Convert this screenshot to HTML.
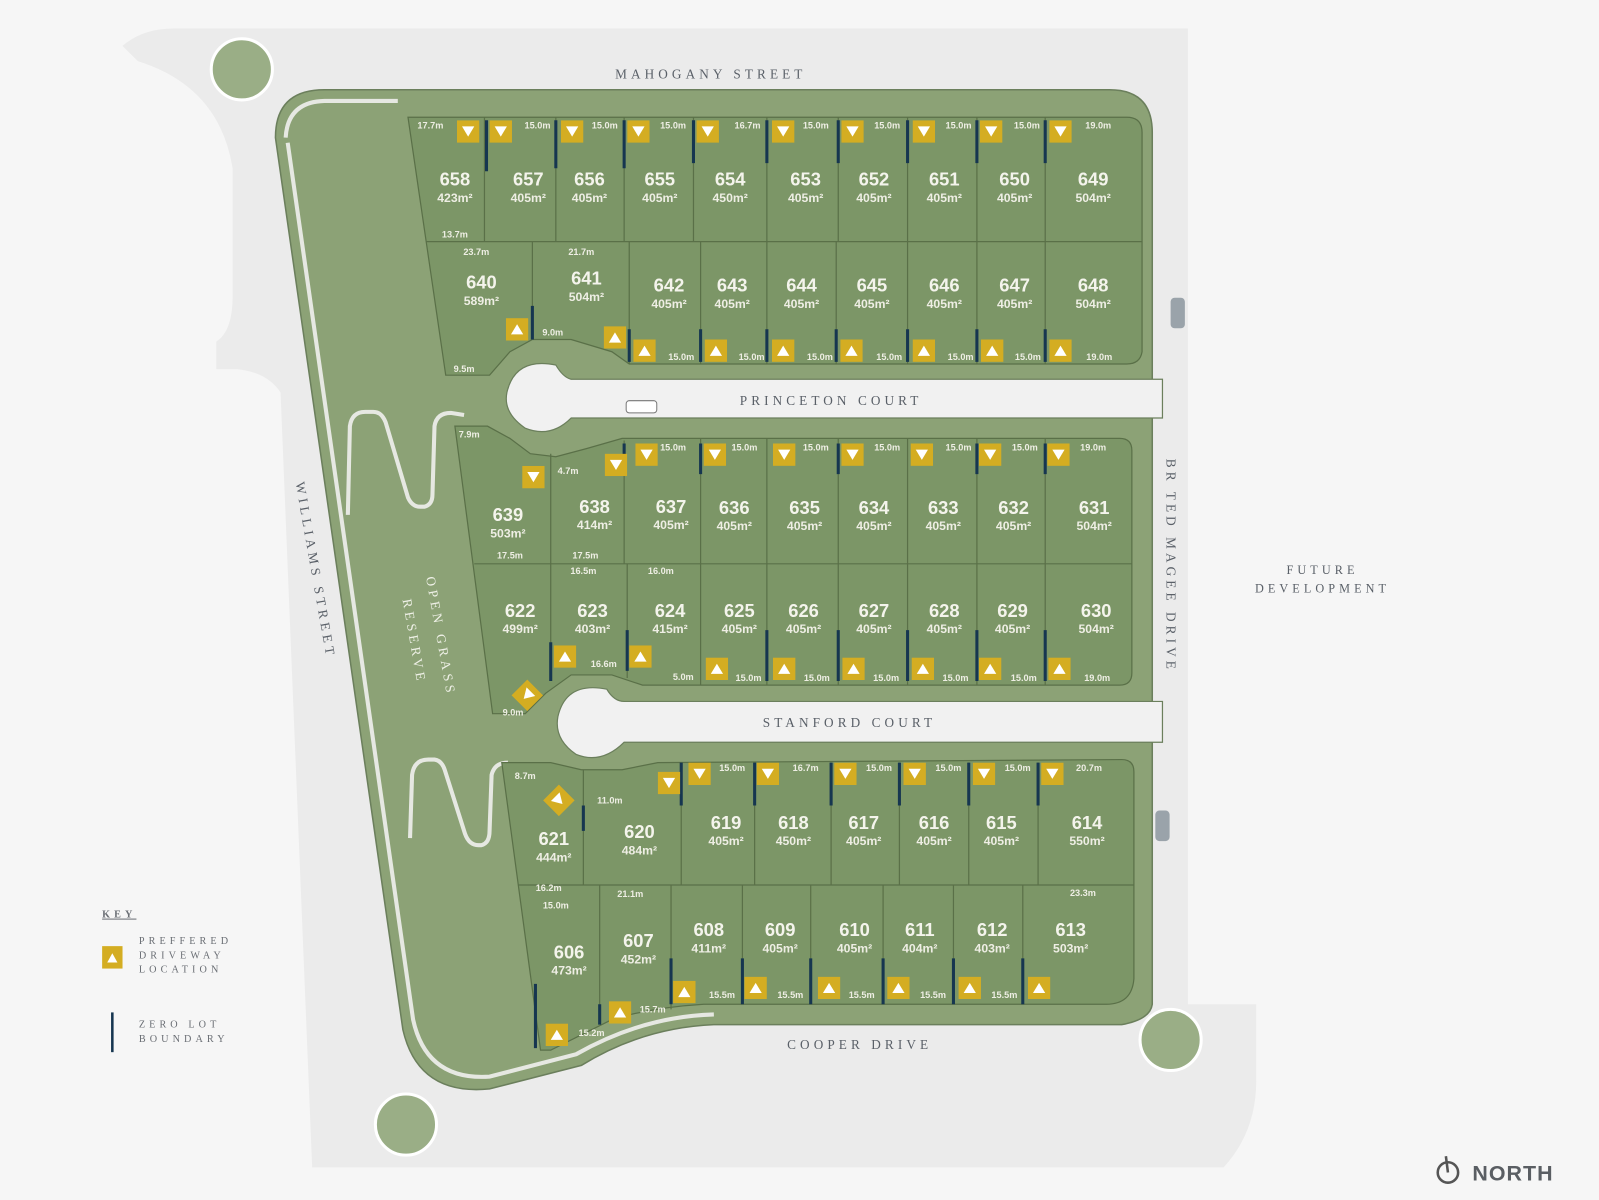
<!DOCTYPE html>
<html><head><meta charset="utf-8"><style>
html,body{margin:0;padding:0;background:#f6f6f6;}
svg{display:block}
.n{font:bold 18px "Liberation Sans",sans-serif;fill:#f4f4ec;text-anchor:middle}
.a{font:bold 12px "Liberation Sans",sans-serif;fill:#eeeee4;text-anchor:middle}
.d{font:bold 9px "Liberation Sans",sans-serif;fill:#eeeee4;text-anchor:middle}
.s{font:13px "Liberation Serif",serif;fill:#5a6068;letter-spacing:4px;text-anchor:middle}
.k{font:10px "Liberation Serif",serif;fill:#6a6e74;letter-spacing:4px}
</style></head><body>
<svg width="1599" height="1200" viewBox="0 0 1568 1177" xmlns="http://www.w3.org/2000/svg">
<defs>
<symbol id="dn" viewBox="0 0 22 22"><rect width="22" height="22" fill="#d4ad22"/><path d="M5,6 L17,6 L11,16Z" fill="#fff"/></symbol>
<symbol id="up" viewBox="0 0 22 22"><rect width="22" height="22" fill="#d4ad22"/><path d="M5,16 L17,16 L11,6Z" fill="#fff"/></symbol>
</defs>
<rect width="1568" height="1177" fill="#f6f6f6"/>
<!-- roads -->
<path d="M120,45 Q140,28 170,28 L1165,28 L1165,985 L1232,985 L1232,1060 Q1232,1110 1200,1145 L306,1145 L275,385 Q262,365 232,362 L212,362 L212,335 Q228,325 228,290 L228,165 Q215,85 135,60 Z" fill="#ebebeb"/>
<!-- trees -->
<g fill="#9aae86" stroke="#fff" stroke-width="3">
<circle cx="237" cy="68" r="30"/><circle cx="398" cy="1103" r="30"/><circle cx="1148" cy="1020" r="30"/></g>
<!-- big green -->
<path d="M270,135 Q270,88 318,88 L1088,88 Q1130,88 1130,130 L1130,985 Q1128,1000 1100,1005 L700,1005 Q630,1008 570,1045 L480,1068 Q410,1075 395,1010 Z" fill="#8ca276" stroke="#6b7f5c" stroke-width="1.5"/>
<path d="M280,135 Q282,100 318,99 L390,99" fill="none" stroke="#e6e8e2" stroke-width="4"/>
<path d="M282,140 L405,1000 Q418,1060 480,1056 L565,1034 Q630,997 700,995" fill="none" stroke="#e6e8e2" stroke-width="4"/>
<!-- reserve paths -->
<g fill="none" stroke="#e6e8e2" stroke-width="4" stroke-linejoin="round">
<path d="M341,505 L343,418 Q345,404 358,404 L366,404 Q374,404 378,414 L400,488 Q404,497 412,497 L416,497 Q424,495 424,485 L426,418 Q428,405 442,405 L455,407"/>
<path d="M402,822 L404,760 Q406,745 420,745 L426,745 Q433,746 436,755 L456,818 Q460,829 469,829 L472,829 Q480,827 480,815 L482,760 Q485,748 498,748"/>
</g>
<!-- courts -->
<g fill="#f1f1f1" stroke="#6b7f5c" stroke-width="1.2">
<path d="M560,372 L1140,372 L1140,410 L560,410 Q540,430 515,420 Q493,405 497,385 Q505,350 545,358 Q552,370 560,372Z"/>
<path d="M612,688 L1140,688 L1140,728 L612,728 Q590,750 565,740 Q543,725 547,703 Q555,668 595,676 Q602,688 612,688Z"/>
</g>
<!-- lot blocks -->
<g fill="#7c9667" stroke="#5a7048" stroke-width="1.2">
<path d="M400,115 L1105,115 Q1120,115 1120,130 L1120,345 Q1118,357 1105,357 L617,357 L600,345 L560,333 L522,333 L500,345 L480,368 L437,368 Z"/>
<path d="M446,418 L478,418 L500,430 L520,445 L545,448 L575,440 L610,430 L1098,430 Q1110,430 1110,442 L1110,660 Q1110,672 1098,672 L630,672 L600,662 L560,662 L535,680 L515,700 L483,700 Z"/>
<path d="M492,748 L540,748 L570,755 L610,755 L645,748 L1100,745 Q1112,745 1112,757 L1112,960 Q1110,985 1085,985 L690,985 Q640,988 600,1000 L540,1030 L530,1030 Z"/>
</g>
<g stroke="#5a7048" stroke-width="1.2">
<line x1="418" y1="237" x2="1120" y2="237"/><line x1="465" y1="553" x2="1110" y2="553"/><line x1="508" y1="868" x2="1112" y2="868"/>
<path d="M475,115V237M545,115V237M612,115V237M680,115V237M752,115V237M822,115V237M890,115V237M958,115V237M1025,115V237"/>
<path d="M522,237V333M617,237V357M687,237V357M752,237V357M820,237V357M890,237V357M958,237V357M1025,237V357"/>
<path d="M540,445V553M612,432V553M687,430V553M752,430V553M822,430V553M890,430V553M958,430V553M1025,430V553"/>
<path d="M540,553V662M615,553V665M687,553V672M752,553V672M822,553V672M890,553V672M958,553V672M1025,553V672"/>
<path d="M572,755V868M668,748V868M740,748V868M815,748V868M882,748V868M950,748V868M1018,748V868"/>
<path d="M588,868V1000M658,868V990M728,868V985M795,868V985M866,868V985M935,868V985M1003,868V985"/>
</g>
<!-- zero lot -->
<g stroke="#163650" stroke-width="3">
<path d="M477,118V168M545,118V165M612,118V165M680,118V160M752,118V160M822,118V160M890,118V160M958,118V160M1025,118V160"/>
<path d="M522,300V333M617,323V355M687,323V355M752,323V355M820,323V355M890,323V355M958,323V355M1025,323V355"/>
<path d="M612,435V465M687,435V465M822,435V465M958,435V465M1025,435V465"/>
<path d="M540,630V668M615,618V658M752,618V668M822,618V668M890,618V668M958,618V668M1025,618V668"/>
<path d="M572,790V815M668,748V790M740,748V790M815,748V790M882,748V790M950,748V790M1018,748V790"/>
<path d="M525,965V1028M588,985V1005M658,940V985M728,940V985M795,940V985M866,940V985M935,940V985M1003,940V985"/>
</g>
<!-- markers -->
<use href="#dn" x="448" y="118" width="22" height="22"/><use href="#dn" x="480" y="118" width="22" height="22"/><use href="#dn" x="550" y="118" width="22" height="22"/><use href="#dn" x="615" y="118" width="22" height="22"/><use href="#dn" x="683" y="118" width="22" height="22"/><use href="#dn" x="757" y="118" width="22" height="22"/><use href="#dn" x="825" y="118" width="22" height="22"/><use href="#dn" x="895" y="118" width="22" height="22"/><use href="#dn" x="961" y="118" width="22" height="22"/><use href="#dn" x="1029" y="118" width="22" height="22"/>
<use href="#up" x="496" y="312" width="22" height="22"/><use href="#up" x="592" y="320" width="22" height="22"/><use href="#up" x="621" y="333" width="22" height="22"/><use href="#up" x="691" y="333" width="22" height="22"/><use href="#up" x="757" y="333" width="22" height="22"/><use href="#up" x="824" y="333" width="22" height="22"/><use href="#up" x="895" y="333" width="22" height="22"/><use href="#up" x="962" y="333" width="22" height="22"/><use href="#up" x="1029" y="333" width="22" height="22"/>
<use href="#dn" x="512" y="457" width="22" height="22"/><use href="#dn" x="593" y="445" width="22" height="22"/><use href="#dn" x="623" y="435" width="22" height="22"/><use href="#dn" x="690" y="435" width="22" height="22"/><use href="#dn" x="758" y="435" width="22" height="22"/><use href="#dn" x="825" y="435" width="22" height="22"/><use href="#dn" x="893" y="435" width="22" height="22"/><use href="#dn" x="960" y="435" width="22" height="22"/><use href="#dn" x="1027" y="435" width="22" height="22"/>
<use href="#up" x="543" y="633" width="22" height="22"/><use href="#up" x="617" y="633" width="22" height="22"/><use href="#up" x="692" y="645" width="22" height="22"/><use href="#up" x="758" y="645" width="22" height="22"/><use href="#up" x="826" y="645" width="22" height="22"/><use href="#up" x="894" y="645" width="22" height="22"/><use href="#up" x="960" y="645" width="22" height="22"/><use href="#up" x="1028" y="645" width="22" height="22"/>
<use href="#dn" x="506" y="671" width="22" height="22" transform="rotate(45 517 682)"/>
<use href="#dn" x="645" y="757" width="22" height="22"/><use href="#dn" x="675" y="748" width="22" height="22"/><use href="#dn" x="742" y="748" width="22" height="22"/><use href="#dn" x="818" y="748" width="22" height="22"/><use href="#dn" x="886" y="748" width="22" height="22"/><use href="#dn" x="954" y="748" width="22" height="22"/><use href="#dn" x="1021" y="748" width="22" height="22"/>
<use href="#dn" x="537" y="774" width="22" height="22" transform="rotate(-45 548 785)"/>
<use href="#up" x="660" y="962" width="22" height="22"/><use href="#up" x="730" y="958" width="22" height="22"/><use href="#up" x="802" y="958" width="22" height="22"/><use href="#up" x="870" y="958" width="22" height="22"/><use href="#up" x="940" y="958" width="22" height="22"/><use href="#up" x="1008" y="958" width="22" height="22"/><use href="#up" x="535" y="1004" width="22" height="22"/><use href="#up" x="597" y="982" width="22" height="22"/>
<!-- lot labels -->
<text class="n" x="446" y="182">658</text><text class="a" x="446" y="198">423m²</text>
<text class="n" x="518" y="182">657</text><text class="a" x="518" y="198">405m²</text>
<text class="n" x="578" y="182">656</text><text class="a" x="578" y="198">405m²</text>
<text class="n" x="647" y="182">655</text><text class="a" x="647" y="198">405m²</text>
<text class="n" x="716" y="182">654</text><text class="a" x="716" y="198">450m²</text>
<text class="n" x="790" y="182">653</text><text class="a" x="790" y="198">405m²</text>
<text class="n" x="857" y="182">652</text><text class="a" x="857" y="198">405m²</text>
<text class="n" x="926" y="182">651</text><text class="a" x="926" y="198">405m²</text>
<text class="n" x="995" y="182">650</text><text class="a" x="995" y="198">405m²</text>
<text class="n" x="1072" y="182">649</text><text class="a" x="1072" y="198">504m²</text>
<text class="n" x="472" y="283">640</text><text class="a" x="472" y="299">589m²</text>
<text class="n" x="575" y="279">641</text><text class="a" x="575" y="295">504m²</text>
<text class="n" x="656" y="286">642</text><text class="a" x="656" y="302">405m²</text>
<text class="n" x="718" y="286">643</text><text class="a" x="718" y="302">405m²</text>
<text class="n" x="786" y="286">644</text><text class="a" x="786" y="302">405m²</text>
<text class="n" x="855" y="286">645</text><text class="a" x="855" y="302">405m²</text>
<text class="n" x="926" y="286">646</text><text class="a" x="926" y="302">405m²</text>
<text class="n" x="995" y="286">647</text><text class="a" x="995" y="302">405m²</text>
<text class="n" x="1072" y="286">648</text><text class="a" x="1072" y="302">504m²</text>
<text class="n" x="498" y="511">639</text><text class="a" x="498" y="527">503m²</text>
<text class="n" x="583" y="503">638</text><text class="a" x="583" y="519">414m²</text>
<text class="n" x="658" y="503">637</text><text class="a" x="658" y="519">405m²</text>
<text class="n" x="720" y="504">636</text><text class="a" x="720" y="520">405m²</text>
<text class="n" x="789" y="504">635</text><text class="a" x="789" y="520">405m²</text>
<text class="n" x="857" y="504">634</text><text class="a" x="857" y="520">405m²</text>
<text class="n" x="925" y="504">633</text><text class="a" x="925" y="520">405m²</text>
<text class="n" x="994" y="504">632</text><text class="a" x="994" y="520">405m²</text>
<text class="n" x="1073" y="504">631</text><text class="a" x="1073" y="520">504m²</text>
<text class="n" x="510" y="605">622</text><text class="a" x="510" y="621">499m²</text>
<text class="n" x="581" y="605">623</text><text class="a" x="581" y="621">403m²</text>
<text class="n" x="657" y="605">624</text><text class="a" x="657" y="621">415m²</text>
<text class="n" x="725" y="605">625</text><text class="a" x="725" y="621">405m²</text>
<text class="n" x="788" y="605">626</text><text class="a" x="788" y="621">405m²</text>
<text class="n" x="857" y="605">627</text><text class="a" x="857" y="621">405m²</text>
<text class="n" x="926" y="605">628</text><text class="a" x="926" y="621">405m²</text>
<text class="n" x="993" y="605">629</text><text class="a" x="993" y="621">405m²</text>
<text class="n" x="1075" y="605">630</text><text class="a" x="1075" y="621">504m²</text>
<text class="n" x="543" y="829">621</text><text class="a" x="543" y="845">444m²</text>
<text class="n" x="627" y="822">620</text><text class="a" x="627" y="838">484m²</text>
<text class="n" x="712" y="813">619</text><text class="a" x="712" y="829">405m²</text>
<text class="n" x="778" y="813">618</text><text class="a" x="778" y="829">450m²</text>
<text class="n" x="847" y="813">617</text><text class="a" x="847" y="829">405m²</text>
<text class="n" x="916" y="813">616</text><text class="a" x="916" y="829">405m²</text>
<text class="n" x="982" y="813">615</text><text class="a" x="982" y="829">405m²</text>
<text class="n" x="1066" y="813">614</text><text class="a" x="1066" y="829">550m²</text>
<text class="n" x="558" y="940">606</text><text class="a" x="558" y="956">473m²</text>
<text class="n" x="626" y="929">607</text><text class="a" x="626" y="945">452m²</text>
<text class="n" x="695" y="918">608</text><text class="a" x="695" y="934">411m²</text>
<text class="n" x="765" y="918">609</text><text class="a" x="765" y="934">405m²</text>
<text class="n" x="838" y="918">610</text><text class="a" x="838" y="934">405m²</text>
<text class="n" x="902" y="918">611</text><text class="a" x="902" y="934">404m²</text>
<text class="n" x="973" y="918">612</text><text class="a" x="973" y="934">403m²</text>
<text class="n" x="1050" y="918">613</text><text class="a" x="1050" y="934">503m²</text>
<!-- dimensions -->
<g class="d">
<text x="422" y="126" class="d">17.7m</text><text x="527" y="126" class="d">15.0m</text><text x="593" y="126" class="d">15.0m</text><text x="660" y="126" class="d">15.0m</text><text x="733" y="126" class="d">16.7m</text><text x="800" y="126" class="d">15.0m</text><text x="870" y="126" class="d">15.0m</text><text x="940" y="126" class="d">15.0m</text><text x="1007" y="126" class="d">15.0m</text><text x="1077" y="126" class="d">19.0m</text>
<text x="446" y="233" class="d">13.7m</text><text x="467" y="250" class="d">23.7m</text><text x="570" y="250" class="d">21.7m</text><text x="542" y="329" class="d">9.0m</text><text x="455" y="365" class="d">9.5m</text>
<text x="668" y="353" class="d">15.0m</text><text x="737" y="353" class="d">15.0m</text><text x="804" y="353" class="d">15.0m</text><text x="872" y="353" class="d">15.0m</text><text x="942" y="353" class="d">15.0m</text><text x="1008" y="353" class="d">15.0m</text><text x="1078" y="353" class="d">19.0m</text>
<text x="460" y="429" class="d">7.9m</text><text x="557" y="465" class="d">4.7m</text><text x="660" y="442" class="d">15.0m</text><text x="730" y="442" class="d">15.0m</text><text x="800" y="442" class="d">15.0m</text><text x="870" y="442" class="d">15.0m</text><text x="940" y="442" class="d">15.0m</text><text x="1005" y="442" class="d">15.0m</text><text x="1072" y="442" class="d">19.0m</text>
<text x="500" y="548" class="d">17.5m</text><text x="574" y="548" class="d">17.5m</text><text x="572" y="563" class="d">16.5m</text><text x="648" y="563" class="d">16.0m</text><text x="592" y="654" class="d">16.6m</text><text x="670" y="667" class="d">5.0m</text>
<text x="734" y="668" class="d">15.0m</text><text x="801" y="668" class="d">15.0m</text><text x="869" y="668" class="d">15.0m</text><text x="937" y="668" class="d">15.0m</text><text x="1004" y="668" class="d">15.0m</text><text x="1076" y="668" class="d">19.0m</text><text x="503" y="702" class="d">9.0m</text>
<text x="515" y="764" class="d">8.7m</text><text x="598" y="788" class="d">11.0m</text><text x="718" y="756" class="d">15.0m</text><text x="790" y="756" class="d">16.7m</text><text x="862" y="756" class="d">15.0m</text><text x="930" y="756" class="d">15.0m</text><text x="998" y="756" class="d">15.0m</text><text x="1068" y="756" class="d">20.7m</text>
<text x="538" y="874" class="d">16.2m</text><text x="545" y="891" class="d">15.0m</text><text x="618" y="880" class="d">21.1m</text><text x="1062" y="879" class="d">23.3m</text>
<text x="708" y="979" class="d">15.5m</text><text x="775" y="979" class="d">15.5m</text><text x="845" y="979" class="d">15.5m</text><text x="915" y="979" class="d">15.5m</text><text x="985" y="979" class="d">15.5m</text><text x="580" y="1016" class="d">15.2m</text><text x="640" y="993" class="d">15.7m</text>
</g>
<!-- street names -->
<text class="s" x="697" y="77">MAHOGANY STREET</text>
<text class="s" x="815" y="397">PRINCETON COURT</text>
<text class="s" x="833" y="713">STANFORD COURT</text>
<text class="s" x="843" y="1029">COOPER DRIVE</text>
<text class="s" transform="translate(305,560) rotate(80)">WILLIAMS STREET</text>
<text class="s" transform="translate(1144,555) rotate(90)">BR TED MAGEE DRIVE</text>
<text class="s" style="fill:#eef0e6" transform="translate(428,625) rotate(80)">OPEN GRASS</text>
<text class="s" style="fill:#eef0e6" transform="translate(402,630) rotate(80)">RESERVE</text>
<text class="s" x="1297" y="563" style="font-size:12px">FUTURE</text>
<text class="s" x="1297" y="581" style="font-size:12px">DEVELOPMENT</text>
<!-- cars -->
<rect x="1148" y="292" width="14" height="30" rx="4" fill="#9aa3aa"/>
<rect x="1133" y="795" width="14" height="30" rx="4" fill="#9aa3aa"/>
<rect x="614" y="393" width="30" height="12" rx="3" fill="#fff" stroke="#777"/>
<!-- key -->
<text class="k" x="100" y="900" style="text-decoration:underline;font-weight:bold">KEY</text>
<rect x="100" y="928" width="20" height="22" fill="#d4ad22"/><path d="M105,944 L115,944 L110,935Z" fill="#fff"/>
<text class="k" x="136" y="926">PREFFERED</text><text class="k" x="136" y="940">DRIVEWAY</text><text class="k" x="136" y="954">LOCATION</text>
<line x1="110" y1="993" x2="110" y2="1032" stroke="#163650" stroke-width="2.5"/>
<text class="k" x="136" y="1008">ZERO LOT</text><text class="k" x="136" y="1022">BOUNDARY</text>
<!-- north -->
<circle cx="1420" cy="1150" r="10" fill="none" stroke="#555" stroke-width="2.5"/>
<line x1="1420" y1="1150" x2="1418" y2="1134" stroke="#555" stroke-width="2.5"/>
<text x="1444" y="1158" style="font:bold 21px 'Liberation Sans',sans-serif;fill:#5a5e63;letter-spacing:1px">NORTH</text>
</svg>
</body></html>
